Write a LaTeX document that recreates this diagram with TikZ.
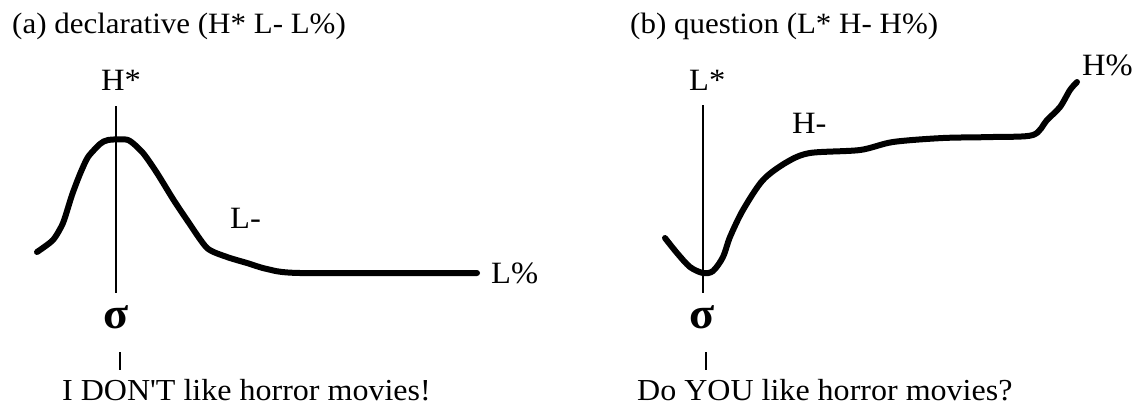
\documentclass[tikz,border=0pt]{standalone}
\usepackage{fontspec}
\setmainfont{Liberation Serif}[FakeStretch=1.05,Ligatures=TeXOff]

\begin{document}
\begin{tikzpicture}[x=1pt,y=-1pt,
   titulo/.style={anchor=base west,inner sep=0pt,font=\fontsize{29.5}{33}\selectfont},
   tono/.style={anchor=base west,inner sep=0pt,font=\fontsize{31}{35}\selectfont},
   silaba/.style={anchor=base,inner sep=0pt,font=\fontsize{44}{50}\selectfont\bfseries},
   frase/.style={anchor=base west,inner sep=0pt,font=\fontsize{30.5}{35}\selectfont},
   contorno/.style={line width=6pt,line join=round,line cap=round},
   tallo/.style={line width=2pt},
   marca/.style={line width=1.5pt}]

  \useasboundingbox (0,0) rectangle (1138,405);

  % --- (a) declarativa ---
  \node[titulo] (tituloA) at (12,33) {(a) declarative (H* L- L\%)};
  \node[tono]   (hEst)    at (101,90) {H*};
  \node[silaba] (sigmaA)  at (116,328) {σ};
  \node[tono]   (lMenos)  at (230,228) {L-};
  \node[tono]   (lPorc)   at (491,283) {L\%};
  \node[frase]  (fraseA)  at (62,400) {I DON'T like horror movies!};
  \coordinate (talloA1) at (116,106);
  \coordinate (talloA2) at (116,293);
  \coordinate (marcaA1) at (120,352);
  \coordinate (marcaA2) at (120,370);
  \draw[tallo] (talloA1) -- (talloA2);
  \draw[marca] (marcaA1) -- (marcaA2);
  \draw[contorno] plot[smooth,tension=0.4] coordinates {
    (37,252) (53,240) (63,223) (72,195) (80,174) (88,157) (100,144)
    (108,140) (128,140) (143,153) (157,173) (173,199) (187,220)
    (207,248) (227,257) (247,263) (267,269) (300,273) (477,273)};

  % --- (b) pregunta ---
  \node[titulo] (tituloB) at (630,33) {(b) question (L* H- H\%)};
  \node[tono]   (lEst)    at (689,90) {L*};
  \node[silaba] (sigmaB)  at (702,328) {σ};
  \node[tono]   (hMenos)  at (792,133) {H-};
  \node[tono]   (hPorc)   at (1082,75) {H\%};
  \node[frase]  (fraseB)  at (637,400) {Do YOU like horror movies?};
  \coordinate (talloB1) at (703,105);
  \coordinate (talloB2) at (703,293);
  \coordinate (marcaB1) at (706,352);
  \coordinate (marcaB2) at (706,370);
  \draw[tallo] (talloB1) -- (talloB2);
  \draw[marca] (marcaB1) -- (marcaB2);
  \draw[contorno] plot[smooth,tension=0.5] coordinates {
    (665,238) (677,253) (690,267) (703,273) (713,271) (723,257)
    (730,237) (743,210) (763,180) (787,162) (810,153) (860,150)
    (893,142) (943,138) (993,137) (1033,135) (1047,120) (1060,107)
    (1070,90) (1077,82)};
\end{tikzpicture}
\end{document}
